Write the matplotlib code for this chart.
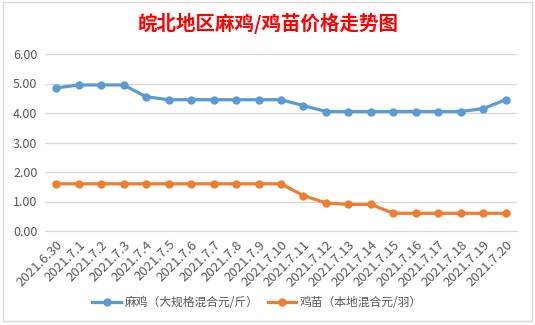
import matplotlib
matplotlib.use("Agg")
import matplotlib.pyplot as plt
from matplotlib.patches import Rectangle

plt.rcParams['font.family'] = ['Noto Sans CJK SC', 'DejaVu Sans']

dates = ["2021.6.30", "2021.7.1", "2021.7.2", "2021.7.3", "2021.7.4", "2021.7.5",
         "2021.7.6", "2021.7.7", "2021.7.8", "2021.7.9", "2021.7.10", "2021.7.11",
         "2021.7.12", "2021.7.13", "2021.7.14", "2021.7.15", "2021.7.16", "2021.7.17",
         "2021.7.18", "2021.7.19", "2021.7.20"]
maji = [4.85, 4.95, 4.95, 4.95, 4.55, 4.45, 4.45, 4.45, 4.45, 4.45, 4.45,
        4.25, 4.05, 4.05, 4.05, 4.05, 4.05, 4.05, 4.05, 4.15, 4.45]
jimiao = [1.6, 1.6, 1.6, 1.6, 1.6, 1.6, 1.6, 1.6, 1.6, 1.6, 1.6,
          1.2, 0.95, 0.9, 0.9, 0.6, 0.6, 0.6, 0.6, 0.6, 0.6]
series_names = ["麻鸡（大规格混合元/斤）", "鸡苗（本地混合元/羽）"]
colors = ["#5B9BD5", "#ED7D31"]

fig = plt.figure(figsize=(5.35, 3.25), dpi=100)
fig.patches.append(Rectangle((3 / 535, 1 - 321 / 325), 529 / 535, 319 / 325,
                             transform=fig.transFigure, fill=False,
                             edgecolor="#d9d9d9", lw=1))
ax = fig.add_axes([45 / 535, 1 - 231 / 325, 472 / 535, 177 / 325])

x = list(range(len(dates)))
for vals, name, c in zip([maji, jimiao], series_names, colors):
    ax.plot(x, vals, color=c, lw=2.3, marker="o", ms=5, label=name)

ax.set_xlim(-0.5, len(dates) - 0.5)
ax.set_ylim(0, 6)
ax.set_yticks(range(7))
ax.set_yticklabels([f"{v:.2f}" for v in range(7)])
ax.yaxis.grid(True, color="#d9d9d9", lw=1)
ax.set_axisbelow(True)
for s in ["top", "right", "left"]:
    ax.spines[s].set_visible(False)
ax.spines["bottom"].set_color("#d9d9d9")
ax.tick_params(axis="y", length=0, labelsize=9, labelcolor="#595959", pad=5.5)
ax.tick_params(axis="x", length=0, labelsize=9.5, labelcolor="#595959", pad=5)
ax.set_xticks(x)
ax.set_xticklabels(dates, rotation=45, ha="right", rotation_mode="anchor")

fig.text(268 / 535, 1 - 23 / 325, "皖北地区麻鸡/鸡苗价格走势图", color="red",
         fontsize=14, fontweight="bold", ha="center", va="center")
fig.legend(loc="center", bbox_to_anchor=(257 / 535, 1 - 303 / 325), ncol=2,
           frameon=False, fontsize=8.5, labelcolor="#595959", handlelength=2.4,
           columnspacing=0.8, handletextpad=0.3)

fig.savefig("out.png", dpi=100)
